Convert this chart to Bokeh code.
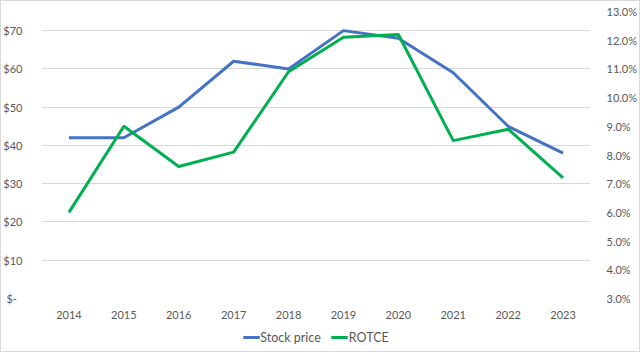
from bokeh.plotting import figure
from bokeh.models import (Range1d, LinearAxis, FixedTicker, PrintfTickFormatter,
                          CustomJSTickFormatter, Legend, LegendItem, FactorRange,
                          InlineStyleSheet)
from bokeh.layouts import column
from bokeh.embed import file_html
from bokeh.resources import INLINE

years = ["2014", "2015", "2016", "2017", "2018", "2019", "2020", "2021", "2022", "2023"]
stock_price = [42, 42, 50, 62, 60, 70, 68, 59, 45, 38]
rotce_pct = [6.0, 9.0, 7.6, 8.1, 10.9, 12.1, 12.2, 8.5, 8.9, 7.2]
series_names = ["Stock price", "ROTCE"]

left_ticks = [0, 10, 20, 30, 40, 50, 60, 70]
right_ticks = [3, 4, 5, 6, 7, 8, 9, 10, 11, 12, 13]

FONT = "Lato"
TXT = "#595959"
BLUE = "#4472C4"
GREEN = "#00B050"

p = figure(width=640, height=322, x_range=FactorRange(*years), y_range=Range1d(0, 75),
           output_backend="svg", toolbar_location=None,
           min_border_left=40, min_border_right=47, min_border_top=11, min_border_bottom=24)
p.extra_y_ranges = {"pct": Range1d(3, 13)}
p.outline_line_color = None
p.background_fill_color = "white"
p.border_fill_color = "white"

p.line(years, stock_price, line_color=BLUE, line_width=3)
p.line(years, rotce_pct, line_color=GREEN, line_width=3, y_range_name="pct")

p.xgrid.grid_line_color = None
p.ygrid.grid_line_color = "#D9D9D9"
p.ygrid.grid_line_width = 1
p.yaxis.ticker = FixedTicker(ticks=left_ticks)
p.yaxis.formatter = CustomJSTickFormatter(code="return tick == 0 ? '$-\\u00a0\\u00a0' : '$' + tick.toFixed(0);")

ax_r = LinearAxis(y_range_name="pct", ticker=FixedTicker(ticks=right_ticks),
                  formatter=PrintfTickFormatter(format="%.1f%%"))
p.add_layout(ax_r, "right")

for ax in [p.xaxis[0], p.yaxis[0], ax_r]:
    ax.axis_line_color = None
    ax.major_tick_line_color = None
    ax.minor_tick_line_color = None
    ax.major_label_text_font = FONT
    ax.major_label_text_font_size = "11px"
    ax.major_label_text_color = TXT
p.yaxis[0].major_label_standoff = 13
ax_r.major_label_standoff = 10
p.xaxis[0].major_label_standoff = 6

# legend strip below the chart (its lines hold points outside the strip's visible range)
lg = figure(width=640, height=30, x_range=Range1d(0, 1), y_range=Range1d(0, 1),
            output_backend="svg", toolbar_location=None, x_axis_type=None, y_axis_type=None,
            min_border_left=0, min_border_right=0, min_border_top=0, min_border_bottom=0)
lg.outline_line_color = None
lg.xgrid.grid_line_color = None
lg.ygrid.grid_line_color = None
lr1 = lg.line(x=[5, 6], y=[5, 5], line_color=BLUE, line_width=3)
lr2 = lg.line(x=[5, 6], y=[6, 6], line_color=GREEN, line_width=3)
legend = Legend(items=[LegendItem(label=series_names[0], renderers=[lr1]),
                       LegendItem(label=series_names[1], renderers=[lr2])],
                orientation="horizontal", location="center",
                padding=0, margin=0, spacing=10, glyph_width=17, glyph_height=20,
                label_height=20, label_standoff=1,
                label_text_font=FONT, label_text_font_size="12.5px", label_text_color=TXT,
                border_line_color=None, background_fill_alpha=0)
lg.add_layout(legend, "center")

layout = column(p, lg, spacing=0)
layout.stylesheets = [InlineStyleSheet(css=":host::after { content: ''; position: absolute; left: 0; top: 0; width: 640px; height: 352px; box-sizing: border-box; border: 1px solid #D9D9D9; pointer-events: none; z-index: 100; }")]

open("out.html", "w").write(file_html(layout, INLINE))
